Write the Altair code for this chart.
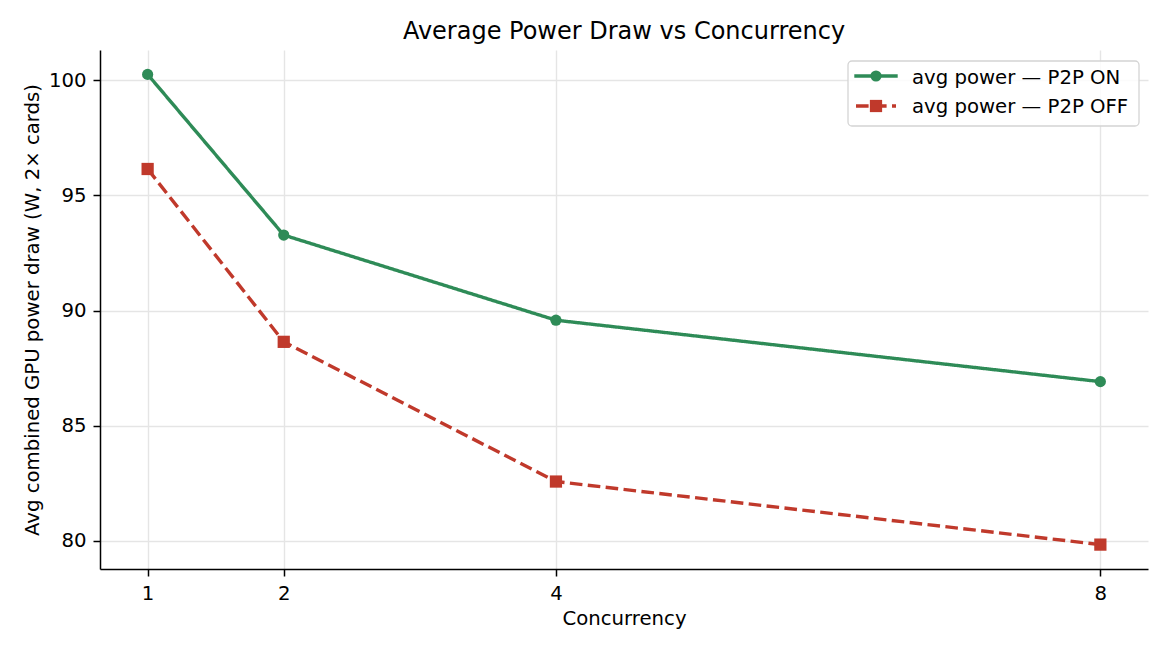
import altair as alt
import pandas as pd

concurrency = [1, 2, 4, 8]
power_on = [100.26, 93.28, 89.58, 86.91]
power_off = [96.15, 88.64, 82.57, 79.83]
series_names = ["avg power — P2P ON", "avg power — P2P OFF"]
colors = ["#2e8b57", "#c0392b"]

rows = []
for c, v in zip(concurrency, power_on):
    rows.append({"concurrency": c, "power": v, "series": series_names[0]})
for c, v in zip(concurrency, power_off):
    rows.append({"concurrency": c, "power": v, "series": series_names[1]})
df = pd.DataFrame(rows)

FONT = "DejaVu Sans"
FS = 19.7
LW = 3.4
DASH = [12.6, 5.4]
CIRCLE_SIZE = 125
SQUARE_SIZE = 150

x = alt.X("concurrency:Q", title="Concurrency",
          scale=alt.Scale(domain=[0.65, 8.35], nice=False, zero=False),
          axis=alt.Axis(values=concurrency, format="d", titleY=55, titleBaseline="alphabetic"))
y = alt.Y("power:Q", title="Avg combined GPU power draw (W, 2× cards)",
          scale=alt.Scale(domain=[78.77, 101.32], nice=False, zero=False),
          axis=alt.Axis(values=[80, 85, 90, 95, 100], titleX=-68, titleY=259.5,
                        titleAngle=-90, titleBaseline="middle", titleAlign="center"))

color = alt.Color("series:N", scale=alt.Scale(domain=series_names, range=colors), legend=None)

lines = alt.Chart(df).mark_line(strokeWidth=LW, strokeJoin="round").encode(
    x=x, y=y, color=color,
    strokeDash=alt.StrokeDash("series:N", scale=alt.Scale(domain=series_names, range=[[1, 0], DASH]), legend=None),
)

circles = alt.Chart(df).transform_filter(
    alt.datum.series == series_names[0]
).mark_point(filled=True, opacity=1, strokeWidth=0, shape="circle", size=CIRCLE_SIZE).encode(
    x=x, y=y, color=color,
)
squares = alt.Chart(df).transform_filter(
    alt.datum.series == series_names[1]
).mark_point(filled=True, opacity=1, strokeWidth=0, shape="square", size=SQUARE_SIZE).encode(
    x=x, y=y, color=color,
)

# --- legend (drawn as decoration in pixel space) ---
one = pd.DataFrame({"k": [0]})
leg_box = alt.Chart(one).mark_rect(
    fill="white", fillOpacity=0.85, stroke="#d4d4d4", strokeWidth=1.3, cornerRadius=4
).encode(x=alt.value(748), x2=alt.value(1039), y=alt.value(11), y2=alt.value(76))

leg_line_on = alt.Chart(one).mark_rule(
    color=colors[0], strokeWidth=LW, strokeCap="square"
).encode(x=alt.value(756), x2=alt.value(796), y=alt.value(26))
leg_line_off = alt.Chart(one).mark_rule(
    color=colors[1], strokeWidth=LW, strokeDash=DASH
).encode(x=alt.value(756), x2=alt.value(796), y=alt.value(56))
leg_circle = alt.Chart(one).mark_point(
    filled=True, opacity=1, strokeWidth=0, shape="circle", size=CIRCLE_SIZE, color=colors[0]
).encode(x=alt.value(776), y=alt.value(26))
leg_square = alt.Chart(one).mark_point(
    filled=True, opacity=1, strokeWidth=0, shape="square", size=SQUARE_SIZE, color=colors[1]
).encode(x=alt.value(776), y=alt.value(56))
leg_text_on = alt.Chart(one).mark_text(
    align="left", baseline="middle", font=FONT, fontSize=FS, color="#000"
).encode(x=alt.value(812), y=alt.value(27.5), text=alt.value(series_names[0]))
leg_text_off = alt.Chart(one).mark_text(
    align="left", baseline="middle", font=FONT, fontSize=FS, color="#000"
).encode(x=alt.value(812), y=alt.value(56.5), text=alt.value(series_names[1]))

chart = alt.layer(
    lines, circles, squares,
    leg_box, leg_line_on, leg_line_off, leg_circle, leg_square, leg_text_on, leg_text_off,
).properties(
    width=1048, height=519,
    title=alt.TitleParams("Average Power Draw vs Concurrency", font=FONT, fontSize=24,
                          fontWeight="normal", color="#000", anchor="middle", offset=6),
    padding={"left": 100, "top": 50, "right": 22, "bottom": 81},
    autosize=alt.AutoSizeParams(type="none"),
).configure_view(stroke=None).configure_axis(
    labelFont=FONT, titleFont=FONT, labelFontSize=FS, titleFontSize=FS,
    titleFontWeight="normal", labelColor="#000", titleColor="#000",
    domainColor="#000", domainWidth=1.5, tickColor="#000", tickSize=7, tickWidth=1.5,
    labelPadding=7, gridColor="#e5e5e5", gridWidth=1.4,
)

chart.save("out.html", embed_options={"renderer": "svg", "actions": False})
